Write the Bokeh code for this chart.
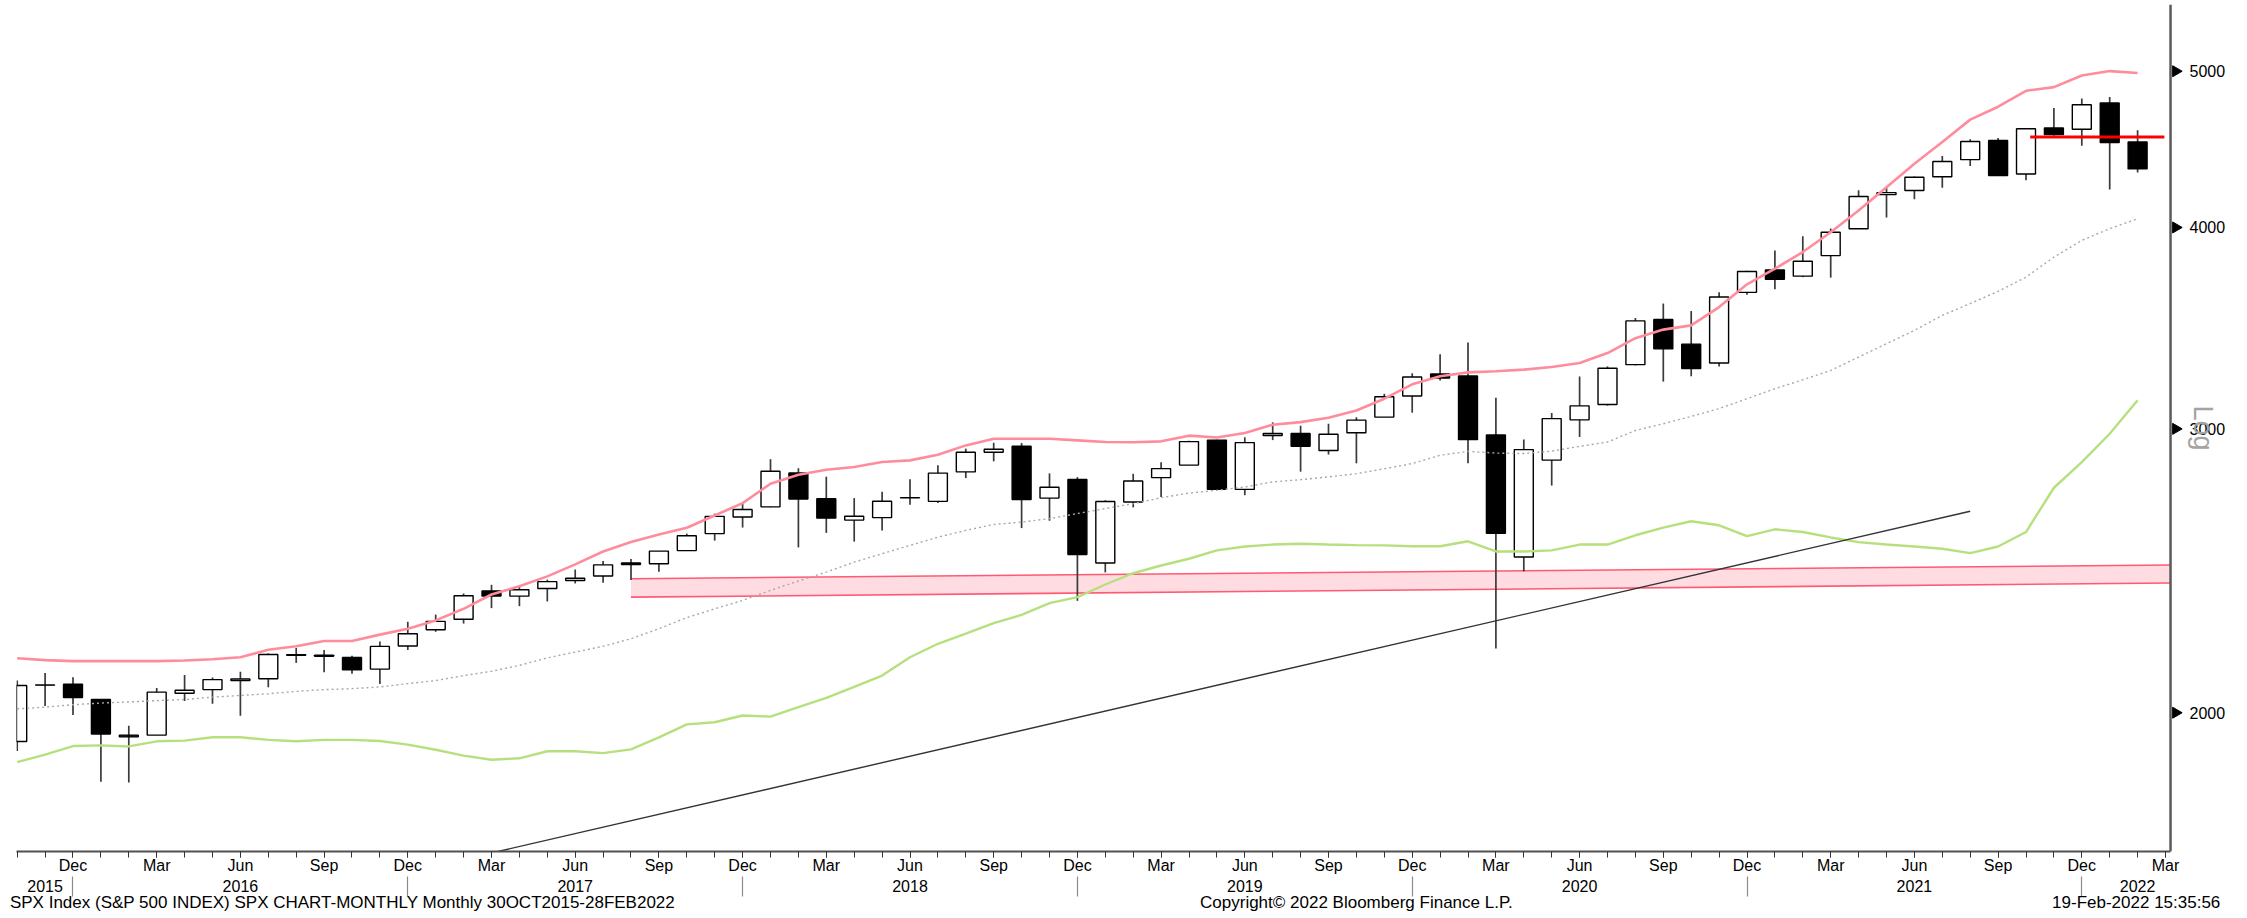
import math
from bokeh.plotting import figure
from bokeh.models import Range1d, FixedTicker, LinearAxis, Span, ColumnDataSource
from bokeh.embed import file_html
from bokeh.resources import INLINE

# ---------------- data (monthly SPX candles, Oct 2015 .. Feb 2022) ----------------
start_year, start_month = 2015, 10
month_abbr = ["Jan", "Feb", "Mar", "Apr", "May", "Jun", "Jul", "Aug", "Sep", "Oct", "Nov", "Dec"]
labelled_months = ["Mar", "Jun", "Sep", "Dec"]

open_ = [1919.65, 2080.76, 2082.93, 2038.20, 1936.94, 1937.09, 2056.62, 2067.17, 2093.94, 2099.34,
         2173.15, 2171.33, 2164.33, 2128.68, 2200.17, 2251.57, 2285.59, 2380.13, 2362.34, 2388.50,
         2415.65, 2431.39, 2477.10, 2474.42, 2521.20, 2583.21, 2645.10, 2683.73, 2816.45, 2715.22,
         2633.45, 2642.96, 2718.70, 2704.95, 2821.17, 2901.61, 2926.29, 2717.58, 2790.50, 2476.96,
         2702.32, 2798.22, 2848.63, 2952.33, 2751.53, 2971.41, 2980.32, 2909.01, 2983.69, 3050.72,
         3143.85, 3244.67, 3235.66, 2974.28, 2498.08, 2869.09, 3038.78, 3105.92, 3288.26, 3507.44,
         3385.87, 3296.20, 3645.87, 3764.61, 3731.17, 3842.51, 3992.78, 4191.98, 4216.52, 4300.73,
         4406.86, 4528.80, 4317.16, 4610.62, 4602.82, 4778.14, 4519.57]
high = [2094.32, 2116.48, 2104.27, 2038.20, 1962.96, 2072.21, 2111.05, 2103.48, 2120.55, 2177.09,
        2193.81, 2187.87, 2169.60, 2214.10, 2277.53, 2300.99, 2371.54, 2400.98, 2398.16, 2418.71,
        2453.82, 2484.04, 2490.87, 2519.44, 2582.98, 2657.74, 2694.97, 2872.87, 2835.96, 2801.90,
        2717.49, 2742.24, 2791.47, 2848.03, 2916.50, 2940.91, 2939.86, 2815.15, 2800.18, 2708.95,
        2813.49, 2860.31, 2949.52, 2954.13, 2964.15, 3027.98, 3013.59, 3021.99, 3050.10, 3154.26,
        3247.93, 3337.77, 3393.52, 3136.72, 2954.86, 3068.67, 3233.13, 3279.99, 3514.77, 3588.11,
        3549.85, 3645.99, 3760.20, 3870.90, 3950.43, 3994.41, 4218.78, 4238.04, 4302.43, 4429.97,
        4537.36, 4545.85, 4608.08, 4743.83, 4808.93, 4818.62, 4595.31]
low = [1893.70, 2019.39, 1993.26, 1812.29, 1810.10, 1937.09, 2033.80, 2025.91, 1991.68, 2074.02,
       2147.58, 2119.12, 2114.72, 2083.79, 2187.44, 2245.13, 2271.65, 2322.25, 2328.95, 2344.51,
       2405.70, 2407.70, 2417.35, 2446.55, 2520.40, 2557.45, 2605.52, 2682.36, 2532.69, 2585.89,
       2553.80, 2594.62, 2691.99, 2698.95, 2796.34, 2864.12, 2603.54, 2631.09, 2346.58, 2443.96,
       2681.83, 2722.27, 2848.63, 2750.52, 2728.81, 2952.22, 2822.12, 2891.85, 2855.94, 3050.72,
       3070.33, 3214.64, 2855.84, 2191.86, 2447.49, 2766.64, 2965.66, 3101.17, 3284.53, 3209.45,
       3233.94, 3279.74, 3633.40, 3662.71, 3725.62, 3723.34, 3992.78, 4056.88, 4164.40, 4233.13,
       4367.73, 4305.91, 4278.94, 4560.00, 4495.12, 4222.62, 4327.22]
close = [2079.36, 2080.41, 2043.94, 1940.24, 1932.23, 2059.74, 2065.30, 2096.95, 2098.86, 2173.60,
         2170.95, 2168.27, 2126.15, 2198.81, 2238.83, 2278.87, 2363.64, 2362.72, 2384.20, 2411.80,
         2423.41, 2470.30, 2471.65, 2519.36, 2575.26, 2647.58, 2673.61, 2823.81, 2713.83, 2640.87,
         2648.05, 2705.27, 2718.37, 2816.29, 2901.52, 2913.98, 2711.74, 2760.17, 2506.85, 2704.10,
         2784.49, 2834.40, 2945.83, 2752.06, 2941.76, 2980.38, 2926.46, 2976.74, 3037.56, 3140.98,
         3230.78, 3225.52, 2954.22, 2584.59, 2912.43, 3044.31, 3100.29, 3271.12, 3500.31, 3363.00,
         3269.96, 3621.63, 3756.07, 3714.24, 3811.15, 3972.89, 4181.17, 4204.11, 4297.50, 4395.26,
         4522.68, 4307.54, 4605.38, 4567.00, 4766.18, 4515.55, 4348.87]

# Bollinger-style envelope (upper pink, middle dotted grey, lower green)
upper_band = [2162, 2156, 2153, 2153, 2153, 2153, 2155, 2159, 2165, 2188,
              2199, 2216, 2216, 2236, 2255, 2282, 2320, 2368, 2396, 2430,
              2472, 2518, 2552, 2580, 2605, 2651, 2698, 2774, 2810, 2830,
              2841, 2861, 2868, 2891, 2930, 2958, 2958, 2958, 2951, 2944,
              2943, 2947, 2971, 2963, 2982, 3018, 3029, 3048, 3080, 3132,
              3197, 3234, 3252, 3257, 3265, 3277, 3296, 3343, 3415, 3457,
              3478, 3570, 3688, 3771, 3862, 3973, 4098, 4237, 4381, 4519,
              4666, 4753, 4862, 4888, 4970, 5001, 4987]
middle_band = [2011, 2016, 2023, 2028, 2031, 2035, 2038, 2045, 2050, 2055,
               2062, 2067, 2070, 2075, 2085, 2094, 2109, 2122, 2140, 2163,
               2181, 2199, 2223, 2255, 2291, 2320, 2348, 2382, 2414, 2445,
               2480, 2510, 2540, 2570, 2595, 2617, 2626, 2639, 2658, 2677,
               2696, 2719, 2737, 2748, 2761, 2781, 2790, 2801, 2814, 2834,
               2855, 2889, 2905, 2898, 2896, 2906, 2926, 2944, 2993, 3022,
               3054, 3088, 3132, 3177, 3218, 3261, 3324, 3388, 3453, 3528,
               3588, 3651, 3726, 3834, 3927, 3993, 4050]
lower_band = [1864, 1884, 1907, 1909, 1906, 1920, 1922, 1931, 1931, 1924,
              1920, 1924, 1924, 1921, 1911, 1897, 1881, 1870, 1874, 1893,
              1893, 1888, 1898, 1931, 1967, 1973, 1992, 1989, 2016, 2043,
              2075, 2109, 2165, 2207, 2239, 2273, 2300, 2339, 2359, 2402,
              2441, 2468, 2492, 2522, 2536, 2543, 2546, 2543, 2541, 2540,
              2537, 2537, 2555, 2518, 2518, 2522, 2543, 2543, 2577, 2605,
              2629, 2614, 2574, 2599, 2589, 2569, 2552, 2543, 2536, 2528,
              2512, 2536, 2589, 2758, 2861, 2979, 3125]

# drawn annotations (x in months since Oct 2015)
support_x = [22, 77.18]
support_top = [2422, 2470]
support_bottom = [2359, 2407]
trend_x = [16, 70]
trend_y = [1622, 2667]
level_x = [72.15, 76.96]
level_y = [4551, 4551]

price_ticks = [2000, 3000, 4000, 5000]
price_tick_labels = ["2000", "3000", "4000", "5000"]
year_labels = ["2015", "2016", "2017", "2018", "2019", "2020", "2021", "2022"]
year_label_x = [1, 8, 20, 32, 44, 56, 68, 76]

footer_texts = ["SPX Index (S&P 500 INDEX) SPX CHART-MONTHLY  Monthly 30OCT2015-28FEB2022",
                "Copyright\u00a9 2022 Bloomberg Finance L.P.",
                "19-Feb-2022 15:35:56"]
footer_x = [11.75, 48.0, 75.95]

# ---------------- layout ----------------
FONT = "Liberation Sans"
x_start, x_end = -0.025, 77.645
axis_x = 77.18
y_start, y_end = 1640.4, 5500.0

n = len(close)
idx = list(range(n))
n_ticks = n + 1


def month_of(i):
    return (start_month - 1 + i) % 12


p = figure(width=2245, height=914, output_backend="svg", toolbar_location=None,
           x_range=Range1d(x_start, x_end), y_range=Range1d(y_start, y_end),
           y_axis_type="log", y_axis_location="right",
           min_border_left=16, min_border_right=62, min_border_top=4, min_border_bottom=63)
p.outline_line_color = None
p.grid.visible = False
p.background_fill_color = "white"
p.border_fill_color = "white"

# support band
p.patch(x=support_x + support_x[::-1], y=support_top + support_bottom[::-1],
        fill_color="#ffdce2", line_color=None)
p.line(x=support_x, y=support_top, line_color="#ff5a72", line_width=1.6)
p.line(x=support_x, y=support_bottom, line_color="#ff5a72", line_width=1.6)

# candles
up = [c >= o for o, c in zip(open_, close)]
src = ColumnDataSource(dict(
    x=idx, high=high, low=low,
    top=[max(o, c) for o, c in zip(open_, close)],
    bottom=[min(o, c) for o, c in zip(open_, close)],
    fill=["white" if u else "black" for u in up],
))
p.segment(x0="x", y0="low", x1="x", y1="high", source=src, line_color="#3a3a3a", line_width=1.7)
p.vbar(x="x", width=0.68, top="top", bottom="bottom", source=src,
       fill_color="fill", line_color="black", line_width=1.4)

# envelope lines
p.line(x=idx, y=middle_band, line_color="#a8a8a8", line_width=1.4, line_dash="2 3")
p.line(x=idx, y=lower_band, line_color="#b6e07e", line_width=2.4)
p.line(x=idx, y=upper_band, line_color="#ff8c9c", line_width=2.6)

# trend line and level
p.line(x=trend_x, y=trend_y, line_color="#333333", line_width=1.4)
p.line(x=level_x, y=level_y, line_color="#ff0000", line_width=3)

# right axis line + triangle ticks
p.add_layout(Span(location=axis_x, dimension="height", line_color="#5a5a5a", line_width=2.5))
p.scatter(x=[axis_x + 0.19] * len(price_ticks), y=price_ticks, marker="triangle",
          size=11, angle=-math.pi / 2, color="black")

ra = p.yaxis[0]
ra.ticker = FixedTicker(ticks=price_ticks, minor_ticks=[])
ra.major_label_overrides = {t: s for t, s in zip(price_ticks, price_tick_labels)}
ra.axis_line_color = None
ra.major_tick_line_color = None
ra.minor_tick_line_color = None
ra.major_label_standoff = 0
ra.major_label_text_font = FONT
ra.major_label_text_font_size = "16px"
ra.major_label_text_color = "black"
ra.axis_label = "Log"
ra.axis_label_standoff = -40
ra.axis_label_text_font = FONT
ra.axis_label_text_font_size = "27px"
ra.axis_label_text_font_style = "normal"
ra.axis_label_text_color = "#a3a3a3"

# bottom axis: months
label_ticks = [i for i in range(n_ticks) if month_abbr[month_of(i)] in labelled_months]
xa = p.xaxis[0]
xa.ticker = FixedTicker(ticks=label_ticks, minor_ticks=list(range(n_ticks)))
xa.major_label_overrides = {i: month_abbr[month_of(i)] for i in label_ticks}
xa.bounds = (x_start, axis_x)
xa.axis_line_color = "#505050"
xa.axis_line_width = 2
xa.major_tick_in = 0
xa.major_tick_out = 6
xa.minor_tick_in = 0
xa.minor_tick_out = 6
xa.major_tick_line_color = "#333333"
xa.minor_tick_line_color = "#333333"
xa.major_label_standoff = -1
xa.major_label_text_font = FONT
xa.major_label_text_font_size = "16px"
xa.major_label_text_color = "black"

# second row: years with separators at December
dec_ticks = [i for i in range(n_ticks) if month_of(i) == 11]
ya = LinearAxis(ticker=FixedTicker(ticks=year_label_x, minor_ticks=dec_ticks),
                major_label_overrides={x: s for x, s in zip(year_label_x, year_labels)},
                bounds=(x_start, axis_x),
                axis_line_color=None, major_tick_line_color=None,
                major_tick_in=0, major_tick_out=0,
                minor_tick_in=0, minor_tick_out=20,
                minor_tick_line_color="#8c8c8c", minor_tick_line_width=1.2,
                major_label_standoff=-17, major_label_text_font=FONT,
                major_label_text_font_size="16px", major_label_text_color="black")
p.add_layout(ya, "below")

# third row: footer texts
fa = LinearAxis(ticker=FixedTicker(ticks=footer_x, minor_ticks=[]),
                major_label_overrides={x: s for x, s in zip(footer_x, footer_texts)},
                axis_line_color=None, major_tick_line_color=None, minor_tick_line_color=None,
                major_tick_in=0, major_tick_out=0, minor_tick_in=0, minor_tick_out=0,
                major_label_standoff=-2, major_label_text_font=FONT,
                major_label_text_font_size="17px", major_label_text_color="black")
p.add_layout(fa, "below")

open("out.html", "w").write(file_html(p, INLINE))
